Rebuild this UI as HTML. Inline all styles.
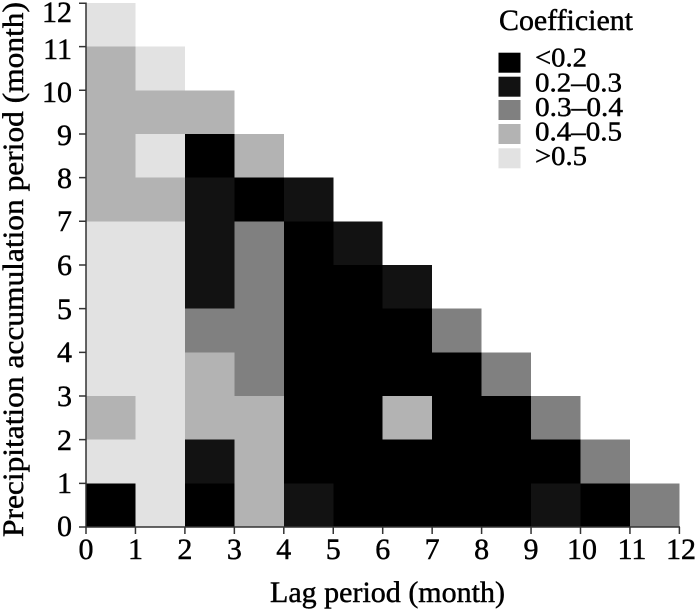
<!DOCTYPE html>
<html>
<head>
<meta charset="utf-8">
<style>
html,body{margin:0;padding:0;background:#fff;}
svg{display:block;}
.a{fill:#000}.b{fill:#121212}.c{fill:#808080}.d{fill:#b3b3b3}.e{fill:#e2e2e2}
svg text{font-family:"Liberation Serif",serif;fill:#000;stroke:#000;stroke-width:0.45px;}
</style>
</head>
<body>
<svg width="700" height="609" viewBox="0 0 700 609" xmlns="http://www.w3.org/2000/svg" font-family="Liberation Serif, serif">
<g shape-rendering="crispEdges">
<rect class="a" x="86" y="483.33" width="49.45" height="43.67"/>
<rect class="e" x="86" y="439.66" width="49.45" height="43.67"/>
<rect class="d" x="86" y="395.99" width="49.45" height="43.67"/>
<rect class="e" x="86" y="221.31" width="49.45" height="174.68"/>
<rect class="d" x="86" y="46.63" width="49.45" height="174.68"/>
<rect class="e" x="86" y="2.96" width="49.45" height="43.67"/>
<rect class="e" x="135.45" y="221.31" width="49.45" height="305.69"/>
<rect class="d" x="135.45" y="177.64" width="49.45" height="43.67"/>
<rect class="e" x="135.45" y="133.97" width="49.45" height="43.67"/>
<rect class="d" x="135.45" y="90.3" width="49.45" height="43.67"/>
<rect class="e" x="135.45" y="46.63" width="49.45" height="43.67"/>
<rect class="a" x="184.9" y="483.33" width="49.45" height="43.67"/>
<rect class="b" x="184.9" y="439.66" width="49.45" height="43.67"/>
<rect class="d" x="184.9" y="352.32" width="49.45" height="87.34"/>
<rect class="c" x="184.9" y="308.65" width="49.45" height="43.67"/>
<rect class="b" x="184.9" y="177.64" width="49.45" height="131.01"/>
<rect class="a" x="184.9" y="133.97" width="49.45" height="43.67"/>
<rect class="d" x="184.9" y="90.3" width="49.45" height="43.67"/>
<rect class="d" x="234.35" y="395.99" width="49.45" height="131.01"/>
<rect class="c" x="234.35" y="221.31" width="49.45" height="174.68"/>
<rect class="a" x="234.35" y="177.64" width="49.45" height="43.67"/>
<rect class="d" x="234.35" y="133.97" width="49.45" height="43.67"/>
<rect class="b" x="283.8" y="483.33" width="49.45" height="43.67"/>
<rect class="a" x="283.8" y="221.31" width="49.45" height="262.02"/>
<rect class="b" x="283.8" y="177.64" width="49.45" height="43.67"/>
<rect class="a" x="333.25" y="264.98" width="49.45" height="262.02"/>
<rect class="b" x="333.25" y="221.31" width="49.45" height="43.67"/>
<rect class="a" x="382.7" y="439.66" width="49.45" height="87.34"/>
<rect class="d" x="382.7" y="395.99" width="49.45" height="43.67"/>
<rect class="a" x="382.7" y="308.65" width="49.45" height="87.34"/>
<rect class="b" x="382.7" y="264.98" width="49.45" height="43.67"/>
<rect class="a" x="432.15" y="352.32" width="49.45" height="174.68"/>
<rect class="c" x="432.15" y="308.65" width="49.45" height="43.67"/>
<rect class="a" x="481.6" y="395.99" width="49.45" height="131.01"/>
<rect class="c" x="481.6" y="352.32" width="49.45" height="43.67"/>
<rect class="b" x="531.05" y="483.33" width="49.45" height="43.67"/>
<rect class="a" x="531.05" y="439.66" width="49.45" height="43.67"/>
<rect class="c" x="531.05" y="395.99" width="49.45" height="43.67"/>
<rect class="a" x="580.5" y="483.33" width="49.45" height="43.67"/>
<rect class="c" x="580.5" y="439.66" width="49.45" height="43.67"/>
<rect class="c" x="629.95" y="483.33" width="49.45" height="43.67"/>
</g>

<g stroke="#333" stroke-width="1.5" fill="none">
<line x1="86" y1="2.5" x2="86" y2="527"/>
<line x1="85.3" y1="527" x2="680" y2="527"/>
<path d="M79 527H86M79 483.33H86M79 439.66H86M79 395.99H86M79 352.32H86M79 308.65H86M79 264.98H86M79 221.31H86M79 177.64H86M79 133.97H86M79 90.3H86M79 46.63H86M79 3.2H86"/>
<path d="M86 527V534M135.45 527V534M184.9 527V534M234.35 527V534M283.8 527V534M333.25 527V534M382.7 527V534M432.15 527V534M481.6 527V534M531.05 527V534M580.5 527V534M629.95 527V534M679.4 527V534"/>
</g>

<g font-size="30" text-anchor="end">
<text x="72" y="536">0</text>
<text x="72" y="493">1</text>
<text x="72" y="450">2</text>
<text x="72" y="406">3</text>
<text x="72" y="362">4</text>
<text x="72" y="319">5</text>
<text x="72" y="275">6</text>
<text x="72" y="231">7</text>
<text x="72" y="188">8</text>
<text x="72" y="145">9</text>
<text x="72" y="102">10</text>
<text x="72" y="59">11</text>
<text x="72" y="22">12</text>
</g>

<g font-size="30" text-anchor="middle">
<text x="86" y="559">0</text>
<text x="135.45" y="559">1</text>
<text x="184.9" y="559">2</text>
<text x="234.35" y="559">3</text>
<text x="283.8" y="559">4</text>
<text x="333.25" y="559">5</text>
<text x="382.7" y="559">6</text>
<text x="432.15" y="559">7</text>
<text x="481.6" y="559">8</text>
<text x="531.05" y="559">9</text>
<text x="582" y="559">10</text>
<text x="632" y="559">11</text>
<text x="681" y="559">12</text>
</g>

<text x="270" y="602" font-size="30" textLength="235" lengthAdjust="spacingAndGlyphs">Lag period (month)</text>
<text transform="translate(23,537) rotate(-90)" x="0" y="0" font-size="30" textLength="535" lengthAdjust="spacingAndGlyphs">Precipitation accumulation period (month)</text>

<text x="499" y="30" font-size="30" textLength="134" lengthAdjust="spacingAndGlyphs">Coefficient</text>
<rect class="a" x="498.5" y="52.7" width="22" height="20"/>
<rect class="b" x="498.5" y="76.7" width="22" height="20"/>
<rect class="c" x="498.5" y="100" width="22" height="20"/>
<rect class="d" x="498.5" y="124" width="22" height="20"/>
<rect class="e" x="498.5" y="148.3" width="22" height="20"/>
<g font-size="27">
<text x="535" y="66.5" textLength="52" lengthAdjust="spacingAndGlyphs">&lt;0.2</text>
<text x="535" y="91.5" textLength="87" lengthAdjust="spacingAndGlyphs">0.2–0.3</text>
<text x="535" y="116" textLength="88" lengthAdjust="spacingAndGlyphs">0.3–0.4</text>
<text x="535" y="140.5" textLength="87" lengthAdjust="spacingAndGlyphs">0.4–0.5</text>
<text x="535" y="165" textLength="52" lengthAdjust="spacingAndGlyphs">&gt;0.5</text>
</g>
</svg>
</body>
</html>
